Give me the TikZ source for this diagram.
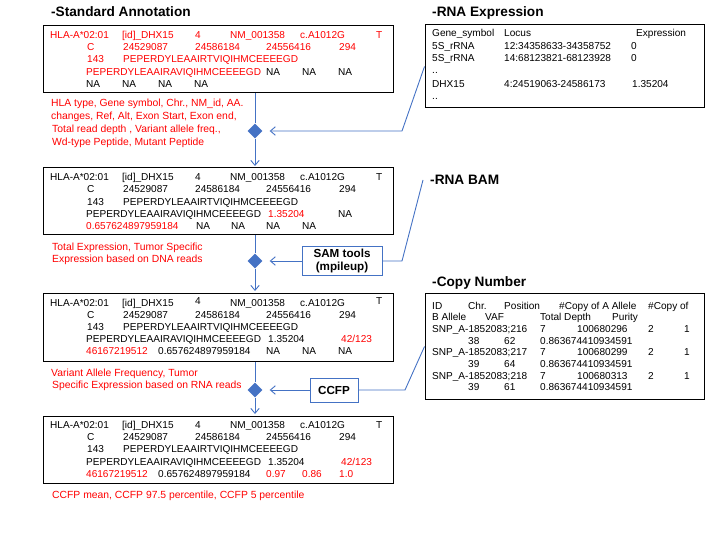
\documentclass[tikz,border=0pt]{standalone}
\usepackage{fontspec}
\setmainfont{Liberation Sans}
\usetikzlibrary{arrows.meta,shapes.geometric}
\definecolor{flowblue}{HTML}{4472C4}
\definecolor{redtxt}{HTML}{FF0000}
\newcounter{tn}
\newcommand\putk[3]{\stepcounter{tn}\node[txt] (t\arabic{tn}) at (#1,#2) {#3};}
\newcommand\putr[3]{\stepcounter{tn}\node[txt,text=redtxt] (t\arabic{tn}) at (#1,#2) {#3};}
\newcommand\putl[3]{\stepcounter{tn}\node[lbl] (t\arabic{tn}) at (#1,#2) {#3};}
\begin{document}
\begin{tikzpicture}[x=1bp,y=-1bp,
  txt/.style={anchor=base west,inner sep=0pt,font=\fontsize{10.1}{12}\selectfont},
  lbl/.style={anchor=base west,inner sep=0pt,font=\fontsize{10.4}{12.6}\selectfont,text=redtxt},
  ttl/.style={anchor=base west,inner sep=0pt,font=\fontsize{13.7}{16}\selectfont\bfseries},
  databox/.style={draw=black,line width=1bp,minimum width=349bp,minimum height=67bp,inner sep=0pt},
  sidebox/.style={draw=black,line width=1bp,minimum width=279bp,inner sep=0pt},
  toolbox/.style={draw=flowblue,line width=1bp,inner sep=0pt,align=center,font=\fontsize{11.7}{14}\selectfont\bfseries},
  dia/.style={diamond,fill=flowblue,draw=none,minimum width=15bp,minimum height=15bp,inner sep=0pt},
  flow/.style={draw=flowblue,line width=0.9bp},
  tip/.style={-{Straight Barb[length=5bp,width=8.5bp]}}]
\useasboundingbox (0,0) rectangle (720,540);

% titles
\node[ttl] (tsa) at (51,17) {-Standard Annotation};
\node[ttl] (tre) at (432,17) {-RNA Expression};
\node[ttl] (trb) at (430,185) {-RNA BAM};
\node[ttl] (tcn) at (432,287) {-Copy Number};

% boxes
\node[databox] (b1) at (218.5,59.5) {};
\node[databox] (b2) at (218.5,201.5) {};
\node[databox,minimum height=68bp] (b3) at (218.5,327) {};
\node[databox] (b4) at (218.5,449.5) {};
\node[sidebox,minimum height=83bp] (rex) at (564.5,66.5) {};
\node[sidebox,minimum height=105bp] (cn) at (564.5,346.5) {};
\node[toolbox,minimum width=80bp,minimum height=28bp] (sam) at (342,261) {SAM tools\\(mpileup)};
\node[toolbox,minimum width=48bp,minimum height=24bp] (ccfp) at (334,390) {CCFP};

% diamonds
\node[dia] (d1) at (255,131) {};
\node[dia] (d2) at (255,261) {};
\node[dia] (d3) at (255,390) {};

% box 1
\putr{50}{38.5}{HLA-A*02:01}\putr{122}{38.5}{[id]\_DHX15}\putr{195}{38.5}{4}\putr{230}{38.5}{NM\_001358}\putr{300}{38.5}{c.A1012G}\putr{376}{38.5}{T}
\putr{87}{50.7}{C}\putr{123}{50.7}{24529087}\putr{195}{50.7}{24586184}\putr{266}{50.7}{24556416}\putr{339}{50.7}{294}
\putr{87}{62.9}{143}\putr{123}{62.9}{PEPERDYLEAAIRTVIQIHMCEEEEGD}
\putr{86}{75.1}{PEPERDYLEAAIRAVIQIHMCEEEEGD}\putk{266}{75.1}{NA}\putk{302}{75.1}{NA}\putk{338}{75.1}{NA}
\putk{86}{87.3}{NA}\putk{122}{87.3}{NA}\putk{158}{87.3}{NA}\putk{194}{87.3}{NA}

% box 2
\putk{50}{180.7}{HLA-A*02:01}\putk{122}{180.7}{[id]\_DHX15}\putk{195}{180.7}{4}\putk{230}{180.7}{NM\_001358}\putk{300}{180.7}{c.A1012G}\putk{376}{180.7}{T}
\putk{87}{192.9}{C}\putk{123}{192.9}{24529087}\putk{195}{192.9}{24586184}\putk{266}{192.9}{24556416}\putk{339}{192.9}{294}
\putk{87}{205.1}{143}\putk{123}{205.1}{PEPERDYLEAAIRTVIQIHMCEEEEGD}
\putk{86}{217.3}{PEPERDYLEAAIRAVIQIHMCEEEEGD}\putr{268}{217.3}{1.35204}\putk{338}{217.3}{NA}
\putr{86}{229.5}{0.657624897959184}\putk{196}{229.5}{NA}\putk{231}{229.5}{NA}\putk{266}{229.5}{NA}\putk{302}{229.5}{NA}

% box 3
\putk{50}{306}{HLA-A*02:01}\putk{122}{306}{[id]\_DHX15}\putk{195}{304}{4}\putk{230}{306}{NM\_001358}\putk{300}{306}{c.A1012G}\putk{376}{304}{T}
\putk{87}{318.2}{C}\putk{123}{318.2}{24529087}\putk{195}{318.2}{24586184}\putk{266}{318.2}{24556416}\putk{339}{318.2}{294}
\putk{87}{330.4}{143}\putk{123}{330.4}{PEPERDYLEAAIRTVIQIHMCEEEEGD}
\putk{86}{342.6}{PEPERDYLEAAIRAVIQIHMCEEEEGD}\putk{268}{342.6}{1.35204}\putr{341}{342.6}{42/123}
\putr{86}{354.8}{46167219512}\putk{158}{354.8}{0.657624897959184}\putk{266}{354.8}{NA}\putk{302}{354.8}{NA}\putk{338}{354.8}{NA}

% box 4
\putk{50}{428.5}{HLA-A*02:01}\putk{122}{428.5}{[id]\_DHX15}\putk{195}{428.5}{4}\putk{230}{428.5}{NM\_001358}\putk{300}{428.5}{c.A1012G}\putk{376}{428.5}{T}
\putk{87}{440.7}{C}\putk{123}{440.7}{24529087}\putk{195}{440.7}{24586184}\putk{266}{440.7}{24556416}\putk{339}{440.7}{294}
\putk{87}{452.9}{143}\putk{123}{452.9}{PEPERDYLEAAIRTVIQIHMCEEEEGD}
\putk{86}{465.1}{PEPERDYLEAAIRAVIQIHMCEEEEGD}\putk{268}{465.1}{1.35204}\putr{341}{465.1}{42/123}
\putr{86}{477.3}{46167219512}\putk{158}{477.3}{0.657624897959184}\putr{266}{477.3}{0.97}\putr{302}{477.3}{0.86}\putr{339}{477.3}{1.0}

% red labels
\putl{51}{107}{HLA type, Gene symbol, Chr., NM\_id, AA.}
\putl{51}{120}{changes, Ref, Alt, Exon Start, Exon end,}
\putl{52}{133}{Total read depth , Variant allele freq.,}
\putl{52}{145.5}{Wd-type Peptide, Mutant Peptide}
\putl{52}{251}{Total Expression, Tumor Specific}
\putl{52}{263}{Expression based on DNA reads}
\putl{51}{376}{Variant Allele Frequency, Tumor}
\putl{52}{388}{Specific Expression based on RNA reads}
\putl{52}{498}{CCFP mean, CCFP 97.5 percentile, CCFP 5 percentile}

% RNA expression
\putk{432}{37}{Gene\_symbol}\putk{504}{37}{Locus}\putk{636}{37}{Expression}
\putk{432}{49.2}{5S\_rRNA}\putk{504}{49.2}{12:34358633-34358752}\putk{631}{49.2}{0}
\putk{432}{61.4}{5S\_rRNA}\putk{504}{61.4}{14:68123821-68123928}\putk{631}{61.4}{0}
\putk{432}{73.6}{..}
\putk{432}{88}{DHX15}\putk{504}{88}{4:24519063-24586173}\putk{632}{88}{1.35204}
\putk{432}{99.5}{..}

% Copy number
\putk{432}{309}{ID}\putk{468}{309}{Chr.}\putk{504}{309}{Position}\putk{559}{309}{\#Copy of A Allele}\putk{648}{309}{\#Copy of}
\putk{432}{320.7}{B Allele}\putk{485}{320.7}{VAF}\putk{540}{320.7}{Total Depth}\putk{612}{320.7}{Purity}
\putk{432}{332.4}{SNP\_A-1852083;216}\putk{540}{332.4}{7}\putk{577}{332.4}{100680296}\putk{648}{332.4}{2}\putk{684}{332.4}{1}
\putk{468}{344.1}{38}\putk{504}{344.1}{62}\putk{540}{344.1}{0.863674410934591}
\putk{432}{355.8}{SNP\_A-1852083;217}\putk{540}{355.8}{7}\putk{577}{355.8}{100680299}\putk{648}{355.8}{2}\putk{684}{355.8}{1}
\putk{468}{367.5}{39}\putk{504}{367.5}{64}\putk{540}{367.5}{0.863674410934591}
\putk{432}{379.2}{SNP\_A-1852083;218}\putk{540}{379.2}{7}\putk{577}{379.2}{100680313}\putk{648}{379.2}{2}\putk{684}{379.2}{1}
\putk{468}{390.9}{39}\putk{504}{390.9}{61}\putk{540}{390.9}{0.863674410934591}

% connectors
\coordinate (k1) at (402,131);
\coordinate (k2) at (402,261);
\coordinate (bamend) at (423,180);
\coordinate (k3) at (405,390);

\draw[flow] (b1.south -| d1.north) -- (d1.north);
\draw[flow,tip,shorten >=1.5bp] (d1.south) -- (b2.north -| d1.south);
\draw[flow] (b2.south -| d2.north) -- (d2.north);
\draw[flow,tip,shorten >=1.5bp] (d2.south) -- (b3.north -| d2.south);
\draw[flow] (b3.south -| d3.north) -- (d3.north);
\draw[flow,tip,shorten >=1.5bp] (d3.south) -- (b4.north -| d3.south);

\draw[flow,tip,shorten >=7bp] (rex.west) -- (k1) -- (d1.east);
\draw[flow] (bamend) -- (k2) -- (sam.east);
\draw[flow,tip,shorten >=7bp] (sam.west) -- (d2.east);
\draw[flow] (cn.west) -- (k3) -- (ccfp.east);
\draw[flow,tip,shorten >=7bp] (ccfp.west) -- (d3.east);
\end{tikzpicture}
\end{document}
